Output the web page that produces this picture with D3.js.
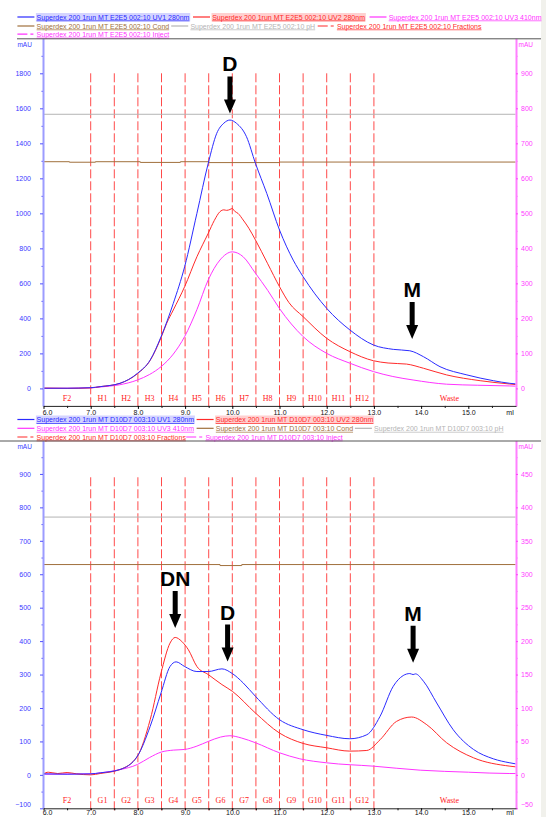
<!DOCTYPE html>
<html>
<head>
<meta charset="utf-8">
<script src="https://cdn.jsdelivr.net/npm/d3@7"></script>
<style>
body { margin: 0; background: #fff; }
text { font-family: "Liberation Sans", Arial, sans-serif; }
</style>
</head>
<body>
<div id="chart"></div>
<script>
// ---- data (ml, mAU) ----
var topUV1 = [[6.0,1],[6.5,1],[7.0,4],[7.2,10],[7.62,29],[7.99,86],[8.26,162],[8.49,295],[8.75,486],[8.99,695],[9.25,1000],[9.49,1286],[9.67,1457],[9.82,1515],[9.95,1533],[10.09,1514],[10.3,1438],[10.49,1286],[10.73,1114],[11.0,905],[11.29,733],[11.5,638],[12.0,457],[12.49,334],[12.99,248],[13.41,223],[13.76,215],[14.05,181],[14.4,124],[14.97,77],[15.53,44],[15.88,29],[16.0,26]];
var topUV2 = [[6.0,2],[6.5,0],[7.0,3],[7.2,10],[7.62,29],[7.99,84],[8.26,160],[8.49,290],[8.61,372],[8.75,448],[8.99,581],[9.25,752],[9.49,886],[9.62,960],[9.74,1010],[9.82,1020],[9.88,1017],[9.95,1022],[10.0,1028],[10.05,1012],[10.12,1000],[10.23,962],[10.35,915],[10.49,848],[10.75,712],[11.0,581],[11.2,490],[11.5,410],[12.0,286],[12.49,210],[12.99,158],[13.3,145],[13.69,139],[14.05,115],[14.54,77],[15.25,44],[15.88,25],[16.0,22]];
// UV3 is read on the right axis
var topUV3 = [[6.0,0],[7.0,1.5],[7.2,4],[7.6,10],[7.99,24],[8.25,40],[8.49,62],[8.75,98],[8.99,148],[9.25,225],[9.49,310],[9.74,367],[10.0,390],[10.23,376],[10.49,329],[10.75,280],[11.0,228],[11.5,148],[12.0,100],[12.49,72],[12.99,48],[13.4,34],[13.83,24],[14.54,12],[15.2,9],[15.88,7],[16.0,6.5]];
var topCond = [[6.0,1295],[6.55,1292],[7.1,1295],[8.05,1291],[8.9,1295],[9.5,1290],[11.0,1293],[16.0,1293]];
var topPH = [[6.0,1566],[16.0,1566]];

var botUV1 = [[6.0,3],[6.5,2],[7.0,3],[7.2,6],[7.62,16],[7.99,56],[8.26,145],[8.49,245],[8.68,324],[8.81,338],[8.99,324],[9.25,309],[9.49,309],[9.78,317],[10.0,303],[10.23,275],[10.49,235],[11.0,165],[11.5,135],[12.0,118],[12.49,108],[12.85,120],[13.13,175],[13.41,265],[13.62,297],[13.76,303],[13.83,300],[13.88,302],[14.05,280],[14.33,215],[14.68,135],[15.11,76],[15.53,48],[15.88,36],[16.0,33]];
var botUV2 = [[6.0,3],[6.1,8],[6.3,4],[6.5,7],[6.7,3],[7.0,0],[7.2,4],[7.62,16],[7.99,56],[8.26,165],[8.49,305],[8.68,394],[8.79,411],[8.93,399],[9.07,374],[9.25,324],[9.49,300],[9.78,270],[10.0,250],[10.49,185],[11.0,125],[11.5,94],[12.0,81],[12.49,71],[12.85,73],[13.13,105],[13.48,160],[13.8,173],[14.12,150],[14.54,96],[15.11,51],[15.88,26],[16.0,24]];
var botUV3 = [[6.0,1],[7.0,1.5],[7.2,3],[7.6,7.5],[7.99,15.5],[8.25,26],[8.49,34],[8.75,37],[8.99,38],[9.25,43],[9.49,50],[9.75,56.5],[9.95,58.5],[10.2,55],[10.49,48],[11.0,33],[11.43,24],[12.0,18],[12.99,13],[13.98,7],[15.0,4],[15.88,2],[16.0,2]];
var botCond = [[6.0,629],[9.74,626],[10.2,629],[16.0,629]];
var botPH = [[6.0,771],[16.0,771]];

var fracBounds = [7.0,7.5,8.0,8.5,9.0,9.5,10.0,10.5,11.0,11.5,12.0,12.5,13.0];
var topFracLabels = ["F2","H1","H2","H3","H4","H5","H6","H7","H8","H9","H10","H11","H12","Waste"];
var botFracLabels = ["F2","G1","G2","G3","G4","G5","G6","G7","G8","G9","G10","G11","G12","Waste"];

var topLegend = ["Superdex 200 1run MT E2E5 002:10 UV1 280nm","Superdex 200 1run MT E2E5 002:10 UV2 280nm","Superdex 200 1run MT E2E5 002:10 UV3 410nm","Superdex 200 1run MT E2E5 002:10 Cond","Superdex 200 1run MT E2E5 002:10 pH","Superdex 200 1run MT E2E5 002:10 Fractions","Superdex 200 1run MT E2E5 002:10 Inject"];
var botLegend = ["Superdex 200 1run MT D10D7 003:10 UV1 280nm","Superdex 200 1run MT D10D7 003:10 UV2 280nm","Superdex 200 1run MT D10D7 003:10 UV3 410nm","Superdex 200 1run MT D10D7 003:10 Cond","Superdex 200 1run MT D10D7 003:10 pH","Superdex 200 1run MT D10D7 003:10 Fractions","Superdex 200 1run MT D10D7 003:10 Inject"];

var topPeaks = [{label:"D", ml:9.95, tip:1571}, {label:"M", ml:13.81, tip:282}];
var botPeaks = [{label:"DN", ml:8.79, tip:439}, {label:"D", ml:9.90, tip:339}, {label:"M", ml:13.83, tip:335}];

// ---- drawing ----
var width = 546, height = 817;
var blue = "#2b2bff", red = "#ff2a2a", magenta = "#ff33ff", brown = "#a0703c", grey = "#b4b4b4";

var svg = d3.select("#chart").append("svg")
    .attr("width", width)
    .attr("height", height);

svg.append("rect").attr("x", 541).attr("y", 0).attr("width", 5).attr("height", height).attr("fill", "#f1f1ec");

var x = d3.scaleLinear().domain([6, 16.01]).range([43.5, 516]);

// legend item slots: [x of sample, row]
var legendSlots = {
    top: [[17.4,0],[193,0],[369.5,0],[17.4,1],[171.2,1],[317.7,1],[17.4,2]],
    bot: [[17.4,0],[196.6,0],[17.4,1],[196.6,1],[354.9,1],[17.4,2],[186.2,2]]
};
var legendColors = [blue, red, magenta, brown, grey, red, magenta];
var legendFill = ["#d4d4ff", "#ffd0d0", null, null, null, null, null];

function drawLegend(labels, slots, rowY) {
    labels.forEach(function(t, i) {
        var sx = slots[i][0], sy = rowY[slots[i][1]];
        var dashed = i >= 5;
        svg.append("line")
            .attr("x1", sx).attr("x2", sx + 17)
            .attr("y1", sy).attr("y2", sy)
            .attr("stroke", legendColors[i])
            .attr("stroke-width", 1.2)
            .attr("stroke-dasharray", dashed ? "10,3,3,3" : null);
        var txt = svg.append("text")
            .attr("x", sx + 19.2)
            .attr("y", sy + 2.5)
            .attr("font-size", "7px")
            .attr("fill", legendColors[i])
            .style("text-decoration", "underline")
            .text(t);
        if (legendFill[i]) {
            var w = txt.node().getComputedTextLength();
            svg.insert("rect", "text")
                .attr("x", sx + 18.5).attr("y", sy - 4)
                .attr("width", w + 1.5).attr("height", 8.5)
                .attr("fill", legendFill[i]);
        }
    });
}

function drawPanel(p) {
    var g = svg.append("g");
    var y = p.y, y2 = p.y2;
    var axisY = y.range()[0];

    // frame line above the panel
    svg.append("line")
        .attr("x1", p.sepX).attr("x2", 541)
        .attr("y1", p.sepY).attr("y2", p.sepY)
        .attr("stroke", "#555").attr("stroke-width", 1);

    // fraction marks
    g.selectAll(".frac").data(fracBounds).enter().append("line")
        .attr("x1", function(d){ return x(d); })
        .attr("x2", function(d){ return x(d); })
        .attr("y1", y(p.fracTop))
        .attr("y2", axisY + 3)
        .attr("stroke", "#ff4a4a")
        .attr("stroke-width", 1)
        .attr("stroke-dasharray", "9,3");

    var edges = [6.0].concat(fracBounds, [16.2]);
    g.selectAll(".fraclab").data(p.fracLabels).enter().append("text")
        .attr("x", function(d, i){ return x((edges[i] + edges[i + 1]) / 2); })
        .attr("y", axisY - 5)
        .attr("text-anchor", "middle")
        .attr("font-size", "8px")
        .style("font-family", "'Liberation Serif', 'Times New Roman', serif")
        .attr("fill", "#ff2020")
        .text(function(d){ return d; });

    var line = d3.line()
        .x(function(d){ return x(d[0]); })
        .y(function(d){ return y(d[1]); });
    var line2 = d3.line()
        .x(function(d){ return x(d[0]); })
        .y(function(d){ return y2(d[1]); })
        .curve(d3.curveMonotoneX);
    var stepLine = d3.line()
        .x(function(d){ return x(d[0]); })
        .y(function(d){ return y(d[1]); })
        .curve(d3.curveStepAfter);

    g.append("path").datum(p.ph).attr("d", line)
        .attr("fill", "none").attr("stroke", grey).attr("stroke-width", 1);
    g.append("path").datum(p.cond).attr("d", stepLine)
        .attr("fill", "none").attr("stroke", brown).attr("stroke-width", 1);

    line.curve(d3.curveMonotoneX);
    g.append("path").datum(p.uv3).attr("d", line2)
        .attr("fill", "none").attr("stroke", magenta).attr("stroke-width", 1);
    g.append("path").datum(p.uv2).attr("d", line)
        .attr("fill", "none").attr("stroke", red).attr("stroke-width", 1);
    g.append("path").datum(p.uv1).attr("d", line)
        .attr("fill", "none").attr("stroke", blue).attr("stroke-width", 1);

    // left axis
    var yMinor = g.append("g").attr("transform", "translate(" + 43 + ",0)")
        .call(d3.axisLeft(y).tickValues(p.leftMinor).tickSize(1.5).tickSizeOuter(0).tickFormat(""));
    yMinor.select(".domain").remove();
    yMinor.selectAll("line").attr("stroke", "#5050ff");
    var yAxis = g.append("g").attr("transform", "translate(" + 43 + ",0)")
        .call(d3.axisLeft(y).tickValues(p.leftTicks).tickSize(3).tickSizeOuter(0).tickPadding(9).tickFormat(d3.format("d")));
    yAxis.select(".domain").attr("stroke", "#9c9cff").attr("stroke-width", 2);
    yAxis.selectAll(".tick line").attr("stroke", "#5050ff");
    yAxis.selectAll("text")
        .attr("fill", "#3a3aff")
        .style("font-size", "7px")
        .attr("dy", function(d){ return y(d) > axisY - 6 ? "-0.2em" : "0.32em"; });

    // right axis
    var rMinor = g.append("g").attr("transform", "translate(" + 516 + ",0)")
        .call(d3.axisRight(y2).tickValues(p.rightMinor).tickSize(1.5).tickSizeOuter(0).tickFormat(""));
    rMinor.select(".domain").remove();
    rMinor.selectAll("line").attr("stroke", "#ff40ff");
    var rAxis = g.append("g").attr("transform", "translate(" + 516 + ",0)")
        .call(d3.axisRight(y2).tickValues(p.rightTicks).tickSize(2).tickSizeOuter(0).tickPadding(3).tickFormat(d3.format("d")));
    rAxis.select(".domain").attr("stroke", "#ff80ff").attr("stroke-width", 2);
    rAxis.selectAll(".tick line").attr("stroke", "#ff40ff");
    rAxis.selectAll("text")
        .attr("fill", "#ff40ff")
        .style("font-size", "7px")
        .attr("dy", function(d){ return y2(d) > axisY - 6 ? "-0.2em" : "0.32em"; });

    // x axis
    var xMinor = g.append("g").attr("transform", "translate(0," + axisY + ")")
        .call(d3.axisBottom(x).tickValues(d3.range(6.5, 16, 1)).tickSize(2).tickSizeOuter(0).tickFormat(""));
    xMinor.select(".domain").remove();
    var xAxis = g.append("g").attr("transform", "translate(0," + axisY + ")")
        .call(d3.axisBottom(x).tickValues(d3.range(6, 15.5, 1)).tickSize(p.xTick).tickSizeOuter(0).tickPadding(p.xPad).tickFormat(d3.format(".1f")));
    xAxis.select(".domain").attr("stroke", "#222");
    xAxis.selectAll("text").attr("fill", "#111").style("font-size", "7px")
        .attr("x", function(d){ return d === 6 ? 3.5 : 0; });
    g.append("text").attr("x", 510).attr("y", axisY + p.xTick + p.xPad + 5)
        .attr("text-anchor", "middle").attr("font-size", "7px").attr("fill", "#111").text("ml");

    // mAU labels
    g.append("text").attr("x", 17.4).attr("y", p.sepY + 7.8)
        .attr("font-size", "6.5px").attr("fill", "#3a3aff").text("mAU");
    g.append("text").attr("x", 518.5).attr("y", p.sepY + 7.8)
        .attr("font-size", "6.5px").attr("fill", "#ff40ff").text("mAU");

    // peak arrows
    p.peaks.forEach(function(d) {
        var px = x(d.ml), py = y(d.tip);
        g.append("path")
            .attr("d", "M" + px + "," + py +
                " L" + (px - 6) + "," + (py - 14) +
                " L" + (px - 2.5) + "," + (py - 14) +
                " L" + (px - 2.5) + "," + (py - 37) +
                " L" + (px + 2.5) + "," + (py - 37) +
                " L" + (px + 2.5) + "," + (py - 14) +
                " L" + (px + 6) + "," + (py - 14) + " Z")
            .attr("fill", "#000");
        g.append("text")
            .attr("x", px).attr("y", py - 42)
            .attr("text-anchor", "middle")
            .attr("font-size", "21px")
            .attr("font-weight", "bold")
            .attr("fill", "#000")
            .text(d.label);
    });
}

drawLegend(topLegend, legendSlots.top, [17, 26, 34.2]);
drawLegend(botLegend, legendSlots.bot, [419.5, 428.3, 437]);

drawPanel({
    y: d3.scaleLinear().domain([-100, 2000]).range([405.9, 38.3]),
    y2: d3.scaleLinear().domain([-50, 1000]).range([405.9, 38.3]),
    sepY: 38.8, sepX: 17,
    fracTop: 1800,
    fracLabels: topFracLabels,
    xTick: 3, xPad: 1.5,
    uv1: topUV1, uv2: topUV2, uv3: topUV3, cond: topCond, ph: topPH,
    leftTicks: d3.range(0, 1801, 200), leftMinor: d3.range(100, 1901, 200),
    rightTicks: d3.range(0, 901, 100), rightMinor: d3.range(50, 951, 100),
    peaks: topPeaks
});

drawPanel({
    y: d3.scaleLinear().domain([-100, 1000]).range([808.3, 440.5]),
    y2: d3.scaleLinear().domain([-50, 500]).range([808.3, 440.5]),
    sepY: 441, sepX: 0,
    fracTop: 890,
    fracLabels: botFracLabels,
    xTick: 2, xPad: 0,
    uv1: botUV1, uv2: botUV2, uv3: botUV3, cond: botCond, ph: botPH,
    leftTicks: d3.range(-100, 901, 100), leftMinor: d3.range(-50, 951, 100),
    rightTicks: d3.range(-50, 451, 50), rightMinor: d3.range(-25, 476, 50),
    peaks: botPeaks
});
</script>
</body>
</html>
